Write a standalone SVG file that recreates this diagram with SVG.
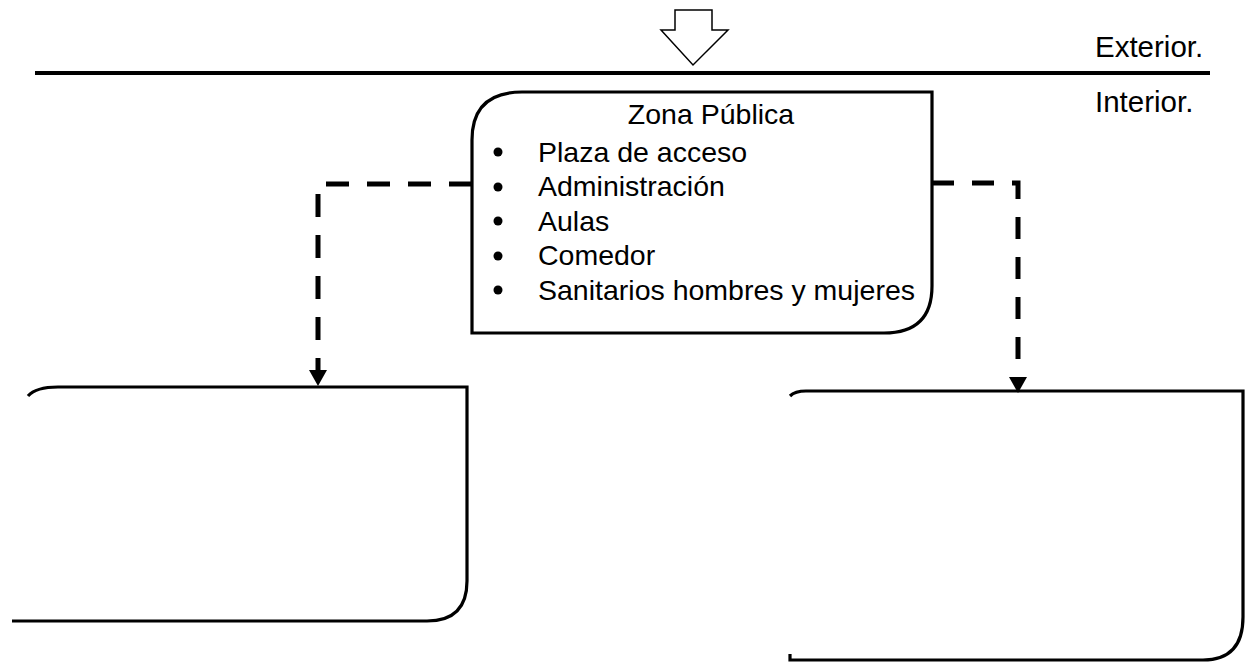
<svg xmlns="http://www.w3.org/2000/svg" width="1245" height="662" viewBox="0 0 1245 662">
<style>
.box{fill:none;stroke:#000;stroke-width:3.2}
.dash{fill:none;stroke:#000;stroke-width:5;stroke-dasharray:23 18}
.head{fill:#000}
.t{font-family:"Liberation Sans",Arial,sans-serif;font-size:28.5px;fill:#000}
.lbl{font-family:"Liberation Sans",Arial,sans-serif;font-size:29.5px;fill:#000}
</style>
<rect width="1245" height="662" fill="#fff"/>
<g id="entry-arrow">
<path d="M675,10 H712 V30 H728 L693,65 L661,30 H675 Z" fill="#fff" stroke="#000" stroke-width="1.5"/>
</g>
<g id="boundary">
<line x1="35" y1="73" x2="1210" y2="73" stroke="#000" stroke-width="4"/>
<text class="lbl" x="1095" y="57">Exterior.</text>
<text class="lbl" x="1095" y="112">Interior.</text>
</g>
<g id="zona-publica">
<path class="box" d="M472,333 V140 Q472,92 522,92 H932 V286 Q932,333 884,333 Z"/>
<text class="t" x="711" y="124" text-anchor="middle">Zona Pública</text>
<g fill="#000">
<circle cx="498" cy="152" r="4.5"/>
<circle cx="498" cy="187" r="4.5"/>
<circle cx="498" cy="221" r="4.5"/>
<circle cx="498" cy="256" r="4.5"/>
<circle cx="498" cy="290" r="4.5"/>
</g>
<text class="t" x="538" y="162">Plaza de acceso</text>
<text class="t" x="538" y="196">Administración</text>
<text class="t" x="538" y="231">Aulas</text>
<text class="t" x="538" y="265">Comedor</text>
<text class="t" x="538" y="300">Sanitarios hombres y mujeres</text>
</g>
<g id="zona-izquierda">
<path class="box" d="M28,396 Q36,387 58,387 H467 V581 Q467,621 427,621 H12"/>
</g>
<g id="zona-derecha">
<path class="box" d="M790,396 Q795,391 806,391 H1243 V617 Q1243,660 1203,660 H790 V654"/>
</g>
<g id="connectors">
<path class="dash" d="M472,184 H318 V371"/>
<polygon class="head" points="309,370 327,370 318,386"/>
<path class="dash" style="stroke-dasharray:22 18" d="M932,183 H1018 V378"/>
<polygon class="head" points="1009,377 1027,377 1018,393"/>
</g>
</svg>
